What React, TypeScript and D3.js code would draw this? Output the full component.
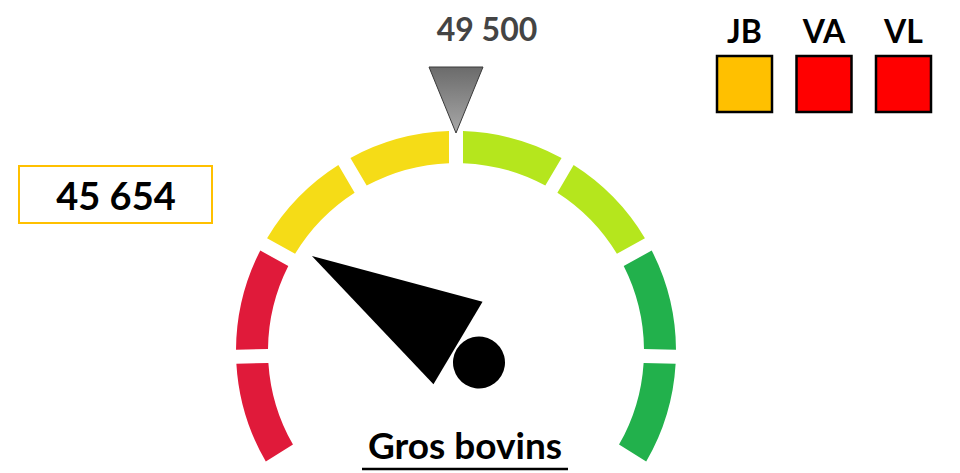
import React from "react";
import * as d3 from "d3";

// ---- data ----
const gaugeTitle = "Gros bovins";
const currentValue = 45654;
const targetValue = 49500;
const gaugeMin = 41580;
const gaugeMax = 57420;
const bandColors = ["#E01A3A", "#E01A3A", "#F5DC17", "#F5DC17", "#B5E61D", "#B5E61D", "#22B14C", "#22B14C"];
const legendLabels = ["JB", "VA", "VL"];
const legendColors = ["#FFC000", "#FF0000", "#FF0000"];

const W = 960;
const H = 473;
const FONT = "Lato, 'Open Sans', sans-serif";

const fmt = (v: number) => d3.format(",")(v).replace(/,/g, " ");

export default function App() {
  const cx = 456;
  const cy = 351;
  const rOuter = 220;
  const rInner = 188;
  const startDeg = -122;
  const endDeg = 122;

  const angle = d3.scaleLinear().domain([gaugeMin, gaugeMax]).range([startDeg, endDeg]);
  const segScale = d3.scaleLinear().domain([0, bandColors.length]).range([startDeg, endDeg]);
  const rad = (d: number) => (d * Math.PI) / 180;

  const arc = d3
    .arc<any>()
    .innerRadius(rInner)
    .outerRadius(rOuter)
    .padRadius(rOuter)
    .padAngle(14 / rOuter);

  const needleDeg = angle(currentValue);
  const targetDeg = angle(targetValue);
  const tRad = rad(targetDeg);
  const tipX = cx + (rOuter - 88) * 0 + Math.sin(tRad) * (cy - 133 >= 0 ? cy - 133 : 0);
  const tipY = cy - Math.cos(tRad) * (cy - 133);

  const needleLen = 170;
  const needleHalf = 48;
  const pivotX = cx + 2;
  const pivotY = cy - 8;

  const legendX = d3.scaleLinear().domain([0, 1]).range([717, 796.5]);

  return (
    <svg width={W} height={H} style={{ position: "absolute", left: 0, top: 0, background: "#fff" }}>
      <defs>
        <linearGradient id="tgrad" x1="0" y1="0" x2="0" y2="1">
          <stop offset="0%" stopColor="#6b6b6b" />
          <stop offset="100%" stopColor="#a8a8a8" />
        </linearGradient>
      </defs>

      {/* gauge bands */}
      <g transform={`translate(${cx},${cy})`}>
        {bandColors.map((c, i) => (
          <path
            key={i}
            d={arc({ startAngle: rad(segScale(i)), endAngle: rad(segScale(i + 1)) }) as string}
            fill={c}
          />
        ))}
      </g>

      {/* target marker */}
      <path
        d={`M${tipX - 27},${tipY - 66} L${tipX + 27},${tipY - 66} L${tipX},${tipY} Z`}
        fill="url(#tgrad)"
        stroke="#3a3a3a"
        strokeWidth={1}
      />
      <text
        x={487}
        y={41}
        textAnchor="middle"
        fontFamily={FONT}
        fontWeight={700}
        fontSize={32}
        fill="#444444"
      >
        {fmt(targetValue)}
      </text>

      {/* needle */}
      <g transform={`translate(${pivotX},${pivotY}) rotate(${needleDeg})`}>
        <path d={`M0,${-needleLen} L${needleHalf},0 L${-needleHalf},0 Z`} fill="#000" />
        <circle cx={-6} cy={28} r={26} fill="#000" />
      </g>

      {/* current value box */}
      <rect x={19} y={166} width={193} height={57} fill="#fff" stroke="#FFC000" strokeWidth={2} />
      <text
        x={116}
        y={210}
        textAnchor="middle"
        fontFamily={FONT}
        fontWeight={700}
        fontSize={38}
        fill="#000"
      >
        {fmt(currentValue)}
      </text>

      {/* legend */}
      {legendLabels.map((l, i) => {
        const x = legendX(i);
        return (
          <g key={l}>
            <text
              x={x + 27.5}
              y={43}
              textAnchor="middle"
              fontFamily={FONT}
              fontWeight={700}
              fontSize={32}
              fill="#000"
            >
              {l}
            </text>
            <rect x={x} y={56} width={55} height={56} fill={legendColors[i]} stroke="#000" strokeWidth={2.5} />
          </g>
        );
      })}

      {/* title */}
      <text
        x={465}
        y={459}
        textAnchor="middle"
        fontFamily={FONT}
        fontWeight={700}
        fontSize={37}
        fill="#000"
      >
        {gaugeTitle}
      </text>
      <line x1={362} x2={568} y1={469} y2={469} stroke="#000" strokeWidth={2.5} />
    </svg>
  );
}
